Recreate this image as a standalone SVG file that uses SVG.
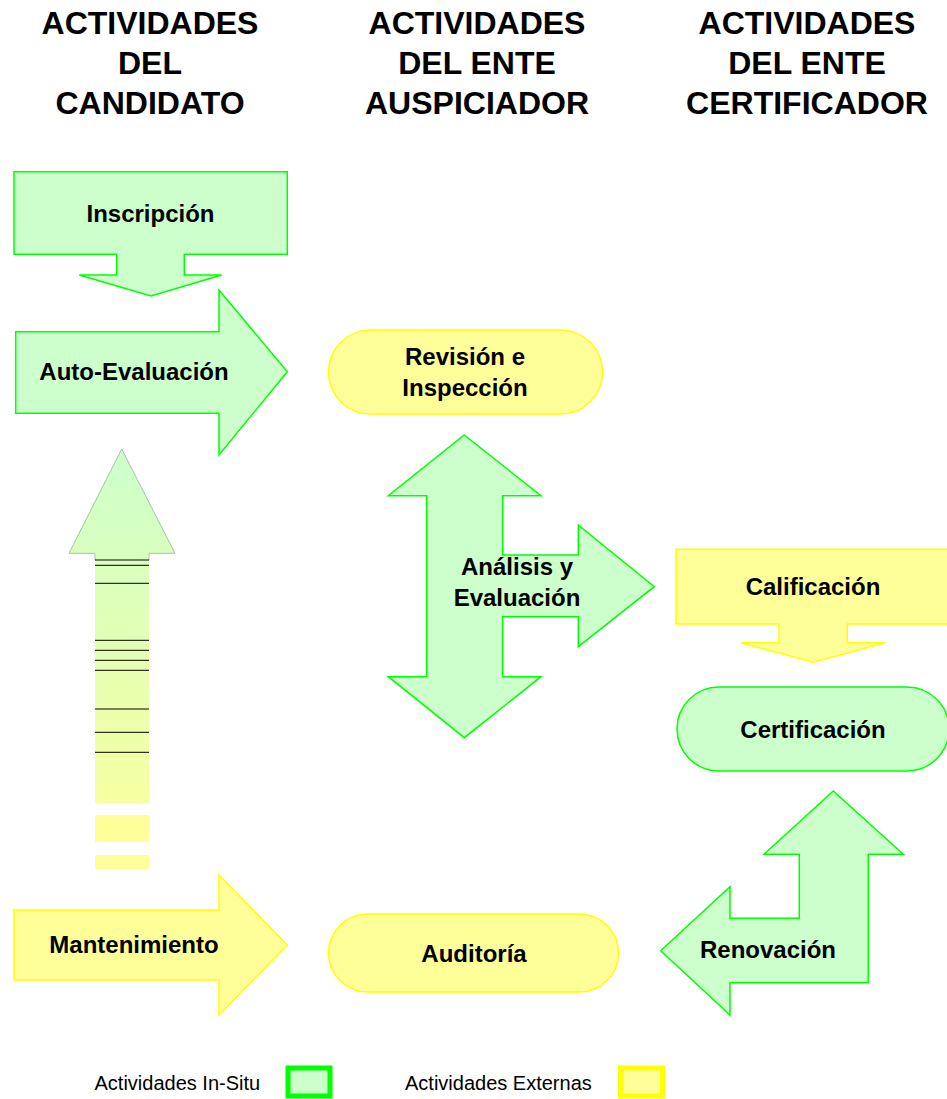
<svg xmlns="http://www.w3.org/2000/svg" width="947" height="1099" viewBox="0 0 947 1099">
<style>
text{font-family:"Liberation Sans",Arial,Helvetica,sans-serif;fill:#000}
.h{font-size:32px;font-weight:bold;text-anchor:middle}
.t{font-size:24px;font-weight:bold;text-anchor:middle}
.l{font-size:20px;text-anchor:start}
.g{fill:#ccffcc;stroke:#00ff00;stroke-width:1.5;stroke-linejoin:miter}
.y{fill:#ffff99;stroke:#ffff00;stroke-width:1.5;stroke-linejoin:miter}
.tick{stroke:#000;stroke-width:1}
</style>
<defs>
<linearGradient id="gy" gradientUnits="userSpaceOnUse" x1="0" y1="449" x2="0" y2="869">
<stop offset="0" stop-color="#ccffcc"/>
<stop offset="1" stop-color="#ffff99"/>
</linearGradient>
</defs>
<rect width="947" height="1099" fill="#fff"/>
<g id="headings">
<text class="h" x="150" y="34">ACTIVIDADES</text>
<text class="h" x="150" y="74">DEL</text>
<text class="h" x="150" y="114">CANDIDATO</text>
<text class="h" x="477" y="34">ACTIVIDADES</text>
<text class="h" x="477" y="74">DEL ENTE</text>
<text class="h" x="477" y="114">AUSPICIADOR</text>
<text class="h" x="807" y="34">ACTIVIDADES</text>
<text class="h" x="807" y="74">DEL ENTE</text>
<text class="h" x="807" y="114">CERTIFICADOR</text>
</g>
<g id="connectors">
<path d="M121.7,449 L175,553.3 H149 V803 H95 V553.3 H69 Z" fill="url(#gy)"/>
<path d="M95,560 V553.3 H69 L121.7,449 L175,553.3 H149 V560" fill="none" stroke="#a0c8a0" stroke-width="1"/>
<rect x="95" y="815" width="54" height="27" fill="#ffff99"/>
<rect x="95" y="855" width="54" height="14" fill="#ffff99"/>
<g class="tick">
<line x1="95" x2="149" y1="560" y2="560"/>
<line x1="95" x2="149" y1="565.3" y2="565.3"/>
<line x1="95" x2="149" y1="583.3" y2="583.3"/>
<line x1="95" x2="149" y1="640.3" y2="640.3"/>
<line x1="95" x2="149" y1="650.3" y2="650.3"/>
<line x1="95" x2="149" y1="660.3" y2="660.3"/>
<line x1="95" x2="149" y1="670.3" y2="670.3"/>
<line x1="95" x2="149" y1="709" y2="709"/>
<line x1="95" x2="149" y1="732.3" y2="732.3"/>
<line x1="95" x2="149" y1="752.3" y2="752.3"/>
</g>
</g>
<g id="inscripcion">
<path class="g" d="M14,171.7 H287.3 V254.3 H184.3 V275 H221.7 L151,296 L79.3,275 H116.7 V254.3 H14 Z"/>
<text class="t" x="150.5" y="221.5">Inscripción</text>
</g>
<g id="autoevaluacion">
<path class="g" d="M15.7,331.7 H219 V290 L287.3,371.7 L219,455 V413.3 H15.7 Z"/>
<text class="t" x="134" y="380">Auto-Evaluación</text>
</g>
<g id="revision">
<rect class="y" x="328.5" y="330" width="274" height="84" rx="42" ry="42"/>
<text class="t" x="465" y="365">Revisión e</text>
<text class="t" x="465" y="395.5">Inspección</text>
</g>
<g id="analisis">
<path class="g" d="M464.3,435 L541,495.7 H502.7 V555 H578.3 V525 L654.3,586.7 L578.3,646.7 V616.7 H502.7 V676.7 H541 L464.3,737.7 L388.3,676.7 H426.7 V495.7 H388.3 Z"/>
<text class="t" x="517" y="574.5">Análisis y</text>
<text class="t" x="517" y="606">Evaluación</text>
</g>
<g id="calificacion">
<path class="y" d="M676,549.3 H950 V624 H847.3 V642.7 H885 L813.3,662.3 L740.7,642.7 H779 V624 H676 Z"/>
<text class="t" x="813" y="595">Calificación</text>
</g>
<g id="certificacion">
<rect class="g" x="677" y="687" width="272" height="84" rx="42" ry="42"/>
<text class="t" x="813" y="738">Certificación</text>
</g>
<g id="mantenimiento">
<path class="y" d="M14,910 H219 V875 L287.3,945 L219,1015 V980 H14 Z"/>
<text class="t" x="134" y="952.5">Mantenimiento</text>
</g>
<g id="auditoria">
<rect class="y" x="328.5" y="914" width="290" height="78" rx="39" ry="39"/>
<text class="t" x="474" y="961.5">Auditoría</text>
</g>
<g id="renovacion">
<path class="g" d="M660.7,950.7 L730,886.7 V918.3 H799.3 V854.3 H764 L833.3,791 L903.3,854.3 H868.3 V982.7 H730 V1015 Z"/>
<text class="t" x="768" y="958">Renovación</text>
</g>
<g id="legend">
<text class="l" x="94.5" y="1089.5">Actividades In-Situ</text>
<rect x="288" y="1068" width="42" height="28" fill="#ccffcc" stroke="#00ff00" stroke-width="5"/>
<text class="l" x="405" y="1089.5">Actividades Externas</text>
<rect x="620.5" y="1068" width="42" height="28" fill="#ffff99" stroke="#ffff00" stroke-width="5"/>
</g>
</svg>
